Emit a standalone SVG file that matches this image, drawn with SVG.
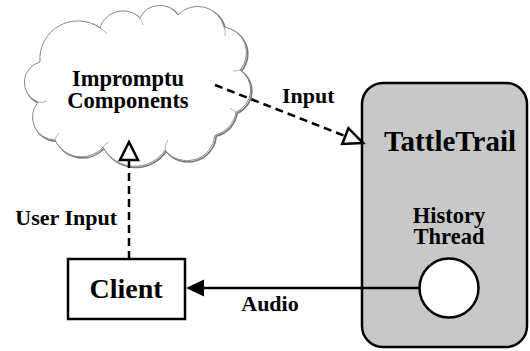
<svg xmlns="http://www.w3.org/2000/svg" width="530" height="351" viewBox="0 0 530 351">
  <style>
    text { font-family: 'Liberation Serif', 'DejaVu Serif', serif; font-weight: 700; fill: #000; }
    .mid { text-anchor: middle; }
    .box { fill: #fff; stroke: #000; stroke-width: 2.5; }
    .dash { fill: none; stroke: #000; stroke-width: 2.5; stroke-dasharray: 8 5; }
    .solid { fill: none; stroke: #000; stroke-width: 2.5; }
    .open { fill: #fff; stroke: #000; stroke-width: 2.5; stroke-linejoin: miter; }
    .cloud { fill: #fff; stroke: #8a8a8a; stroke-width: 1; }
    .cloud-shadow { fill: none; stroke: #777; stroke-width: 1.6; }
    .tail { fill: none; stroke: #a0a0a0; stroke-width: 0.8; }
  </style>
  <defs>
    <path id="cloudShape" d="M40,62 A38,38 0 0 1 100,28 A24,24 0 0 1 140,18 A22,22 0 0 1 178,15 A27,27 0 0 1 224,27 A26,26 0 0 1 240,70 A24,24 0 0 1 236,112 A28,28 0 0 1 215,135 A28,28 0 0 1 165,150 A36,36 0 0 1 103,147 A29,29 0 0 1 55,140 A23,23 0 0 1 38,102 A21,21 0 0 1 40,62 Z"/>
  </defs>

  <!-- Impromptu Components cloud -->
  <g id="impromptu">
    <use href="#cloudShape" class="cloud-shadow" transform="translate(1.2,1.2)"/>
    <use href="#cloudShape" class="cloud"/>
    <!-- lobe overlap hooks -->
    <path class="tail" d="M100,28 q4,2 7,6"/>
    <path class="tail" d="M140,18 q2,3 3,7"/>
    <path class="tail" d="M224,27 q2,4 1,9"/>
    <path class="tail" d="M240,70 q-3,1 -7,1"/>
    <path class="tail" d="M236,112 q-3,-1 -6,-4"/>
    <path class="tail" d="M165,150 q0,-5 3,-10"/>
    <path class="tail" d="M103,147 q2,-3 6,-5"/>
    <path class="tail" d="M55,140 q1,-4 4,-7"/>
    <path class="tail" d="M38,102 q5,1 9,-1"/>
    <text class="mid" x="128" y="86" font-size="22.5">Impromptu</text>
    <text class="mid" x="128" y="108" font-size="22.5">Components</text>
  </g>

  <!-- TattleTrail container -->
  <g id="tattletrail">
    <rect x="362" y="83" width="165" height="264" rx="21" ry="21" fill="#c8c8c8" stroke="#000" stroke-width="2.5"/>
    <text class="mid" x="450" y="151" font-size="29">TattleTrail</text>
  </g>

  <!-- History Thread -->
  <g id="history-thread">
    <text class="mid" x="449" y="223" font-size="22.5">History</text>
    <text class="mid" x="449" y="244" font-size="22.5">Thread</text>
    <circle cx="449" cy="288" r="29.5" class="box"/>
  </g>

  <!-- Client -->
  <g id="client">
    <rect x="68" y="259" width="117" height="60" class="box"/>
    <text class="mid" x="126" y="298" font-size="28">Client</text>
  </g>

  <!-- Connectors -->
  <g id="connectors">
    <!-- Client to cloud: user input -->
    <line x1="129" y1="259" x2="129" y2="160" class="dash"/>
    <polygon points="129,142 138,160 120,160" class="open"/>
    <text x="117" y="225" font-size="22" text-anchor="end">User Input</text>

    <!-- cloud to TattleTrail: input -->
    <line x1="215" y1="85" x2="345.3" y2="136.1" class="dash"/>
    <polygon points="363,143 342.2,144 348.4,128.2" class="open"/>
    <text x="282" y="103" font-size="22">Input</text>

    <!-- History Thread to Client: audio -->
    <line x1="419.5" y1="288" x2="202" y2="288" class="solid"/>
    <polygon points="186,288 204,279.5 204,296.5" fill="#000"/>
    <text class="mid" x="270" y="311" font-size="22">Audio</text>
  </g>
</svg>
